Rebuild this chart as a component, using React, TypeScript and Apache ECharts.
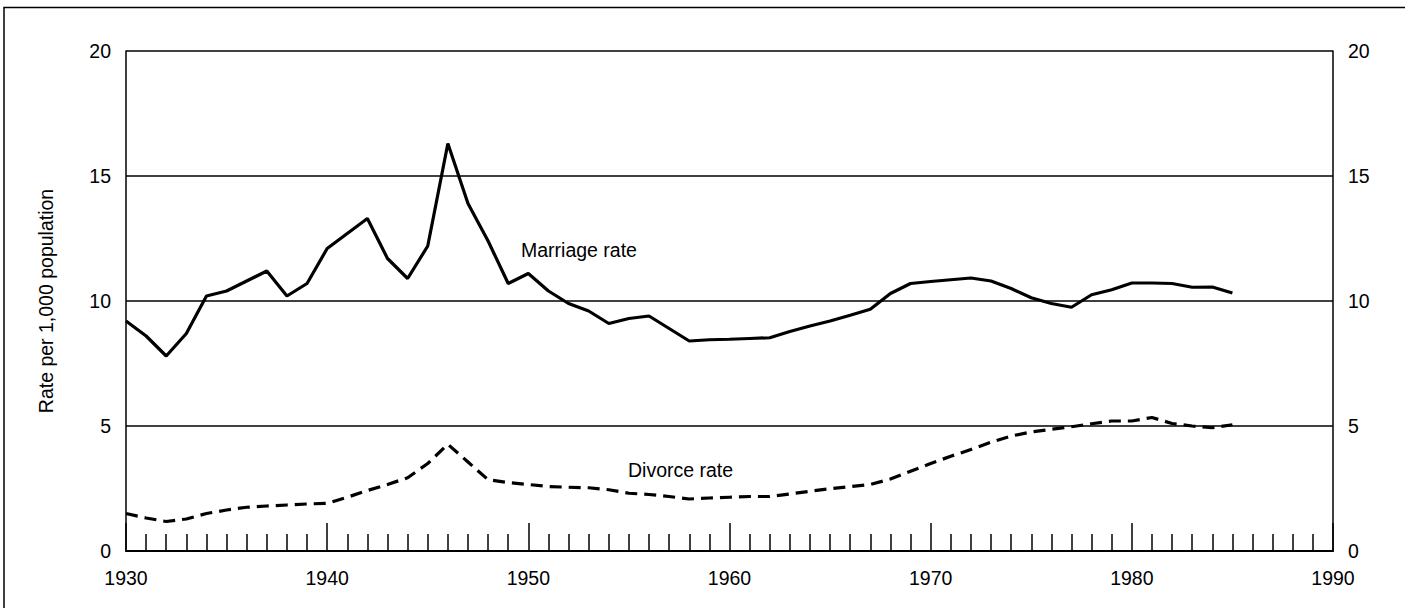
import React, { useEffect, useRef } from "react";
import * as echarts from "echarts";

const years: number[] = [];
for (let y = 1930; y <= 1985; y++) years.push(y);

const marriageRate = [
  9.2, 8.6, 7.8, 8.7, 10.2, 10.4, 10.8, 11.2, 10.2, 10.7,
  12.1, 12.7, 13.3, 11.7, 10.9, 12.2, 16.3, 13.9, 12.4, 10.7,
  11.1, 10.4, 9.9, 9.6, 9.1, 9.3, 9.4, 8.9, 8.4, 8.45,
  8.47, 8.5, 8.53, 8.78, 9.0, 9.2, 9.43, 9.67, 10.3, 10.7,
  10.78, 10.85, 10.92, 10.8, 10.5, 10.13, 9.9, 9.75, 10.25, 10.45,
  10.72, 10.72, 10.7, 10.55, 10.56, 10.32,
];

const divorceRate = [
  1.5, 1.32, 1.18, 1.28, 1.5, 1.64, 1.75, 1.8, 1.84, 1.88,
  1.91, 2.15, 2.42, 2.66, 2.93, 3.5, 4.27, 3.56, 2.85, 2.74,
  2.66, 2.58, 2.55, 2.53, 2.45, 2.31, 2.26, 2.18, 2.08, 2.12,
  2.15, 2.18, 2.18, 2.28, 2.39, 2.49, 2.58, 2.66, 2.88, 3.19,
  3.5, 3.79, 4.06, 4.35, 4.6, 4.76, 4.87, 4.97, 5.09, 5.2,
  5.2, 5.34, 5.1, 5.0, 4.93, 5.05,
];

const yTitle = "Rate per 1,000 population";
const marriageLabel = "Marriage rate";
const divorceLabel = "Divorce rate";

const FONT = "Liberation Sans, Arial, sans-serif";

export default function App() {
  const ref = useRef<HTMLDivElement>(null);
  useEffect(() => {
    if (!ref.current) return;
    const chart = echarts.init(ref.current, undefined, { renderer: "svg" });
    const black = "#000";
    const yAxisCommon = {
      type: "value",
      min: 0,
      max: 20,
      interval: 5,
      axisLine: { show: true, lineStyle: { color: black, width: 1.5 } },
      axisTick: { show: false },
      axisLabel: { color: black, fontSize: 19.5, fontFamily: FONT, margin: 15 },
    };
    chart.setOption({
      animation: false,
      backgroundColor: "#fff",
      grid: { left: 126, right: 72, top: 51, bottom: 57, containLabel: false },
      xAxis: {
        type: "value",
        min: 1930,
        max: 1990,
        interval: 10,
        axisLine: { show: true, onZero: false, lineStyle: { color: black, width: 2 } },
        axisTick: { show: true, inside: true, length: 28, lineStyle: { color: black, width: 1.5 } },
        minorTick: { show: true, splitNumber: 10, length: 17, lineStyle: { color: black, width: 1.5 } },
        splitLine: { show: false },
        axisLabel: {
          color: black,
          fontSize: 19.5,
          fontFamily: FONT,
          margin: 17,
          formatter: (v: number) => String(v),
        },
      },
      yAxis: [
        {
          ...yAxisCommon,
          position: "left",
          splitLine: { show: true, lineStyle: { color: black, width: 1.5 } },
          name: yTitle,
          nameLocation: "middle",
          nameGap: 70,
          nameRotate: 90,
          nameTextStyle: { color: black, fontSize: 19.5, fontFamily: FONT },
        },
        {
          ...yAxisCommon,
          position: "right",
          splitLine: { show: false },
        },
      ],
      series: [
        {
          type: "line",
          name: marriageLabel,
          data: years.map((y, i) => [y, marriageRate[i]]),
          showSymbol: false,
          lineStyle: { color: black, width: 3.2 },
          z: 5,
        },
        {
          type: "line",
          name: divorceLabel,
          data: years.map((y, i) => [y, divorceRate[i]]),
          showSymbol: false,
          lineStyle: { color: black, width: 3.2, type: [12, 7] },
          z: 5,
        },
      ],
      graphic: [
        {
          type: "rect",
          shape: { x: 4, y: 7.5, width: 1430, height: 640 },
          style: { fill: "none", stroke: black, lineWidth: 1.5 },
          silent: true,
        },
        {
          type: "text",
          x: 521,
          y: 250,
          style: { text: marriageLabel, fill: black, fontSize: 19.5, fontFamily: FONT, verticalAlign: "middle" },
        },
        {
          type: "text",
          x: 628,
          y: 470,
          style: { text: divorceLabel, fill: black, fontSize: 19.5, fontFamily: FONT, verticalAlign: "middle" },
        },
      ],
    });
    return () => chart.dispose();
  }, []);
  return (
    <div
      ref={ref}
      style={{ position: "fixed", left: 0, top: 0, width: 1405, height: 608, background: "#fff" }}
    />
  );
}
